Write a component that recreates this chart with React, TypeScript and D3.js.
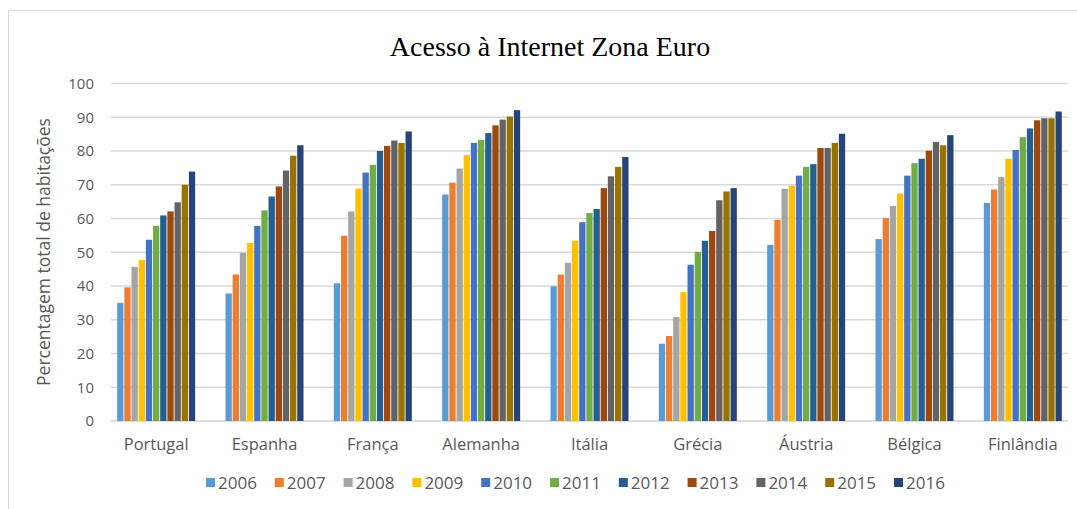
import * as d3 from "d3";

const width = 1077;
const height = 509;

const countries = ["Portugal", "Espanha", "França", "Alemanha", "Itália", "Grécia", "Áustria", "Bélgica", "Finlândia"];
const years = ["2006", "2007", "2008", "2009", "2010", "2011", "2012", "2013", "2014", "2015", "2016"];
const colors = ["#5B9BD5", "#ED7D31", "#A5A5A5", "#FFC000", "#4472C4", "#70AD47", "#255E91", "#9E480E", "#636363", "#997300", "#264478"];

// one array per country, values 2006..2016
const portugal = [35, 39.6, 45.7, 47.7, 53.7, 57.8, 60.9, 62.1, 64.8, 70, 73.9];
const espanha = [37.8, 43.4, 49.8, 52.8, 57.8, 62.4, 66.5, 69.5, 74.2, 78.6, 81.7];
const franca = [40.8, 54.9, 62.1, 68.9, 73.6, 75.9, 80, 81.5, 83.1, 82.4, 85.8];
const alemanha = [67.1, 70.6, 74.8, 78.8, 82.4, 83.3, 85.3, 87.6, 89.3, 90.2, 92.1];
const italia = [39.9, 43.4, 46.9, 53.4, 58.9, 61.6, 62.8, 69, 72.5, 75.3, 78.2];
const grecia = [22.9, 25.2, 30.8, 38.2, 46.3, 50.1, 53.4, 56.3, 65.4, 68, 69];
const austria = [52.2, 59.6, 68.8, 69.7, 72.7, 75.3, 76.1, 80.9, 80.9, 82.4, 85.1];
const belgica = [53.9, 60.1, 63.7, 67.4, 72.7, 76.4, 77.7, 80.1, 82.7, 81.7, 84.7];
const finlandia = [64.6, 68.6, 72.3, 77.7, 80.3, 84.1, 86.7, 89.1, 89.7, 89.7, 91.7];

const series = [portugal, espanha, franca, alemanha, italia, grecia, austria, belgica, finlandia];
const yTicks = [0, 10, 20, 30, 40, 50, 60, 70, 80, 90, 100];

const font = "'Open Sans', Lato, sans-serif";

const App = () => {
    const x = d3.scaleBand(countries, [102, 1077]).paddingInner(0.28).paddingOuter(0.14);
    const xi = d3.scaleBand(years, [0, x.bandwidth()]).paddingInner(0.12);
    const y = d3.scaleLinear([0, 100], [421, 83.5]);
    const gridX0 = 111;
    const gridX1 = 1068;

    return (
        <svg width={width} height={height} style={{ display: "block", position: "absolute", left: 0, top: 0 }}>
            <rect x={0} y={0} width={width} height={height} fill="white" />
            <rect x={8.5} y={10.5} width={width} height={height} fill="none" stroke="#d9d9d9" />
            <text x={550} y={56} textAnchor="middle" fontFamily="'Liberation Serif', 'Times New Roman', serif" fontSize={28} fill="#000">
                Acesso à Internet Zona Euro
            </text>

            {yTicks.map(t => (
                <g key={t}>
                    <line x1={gridX0} x2={gridX1} y1={y(t)} y2={y(t)} stroke={t === 0 ? "#d0d0d0" : "#d9d9d9"} strokeWidth={1.3} />
                    <text x={94} y={y(t)} dy="0.35em" textAnchor="end" fontFamily={font} fontSize={15} fill="#595959">{t}</text>
                </g>
            ))}

            <text transform={`translate(50,252) rotate(-90)`} textAnchor="middle" fontFamily={font} fontSize={17.5} fill="#595959">
                Percentagem total de habitações
            </text>

            {series.map((vals, ci) => (
                <g key={countries[ci]} transform={`translate(${x(countries[ci])},0)`}>
                    {vals.map((v, yi) => (
                        <rect key={yi}
                            x={xi(years[yi])}
                            y={y(v)}
                            width={xi.bandwidth()}
                            height={y(0) - y(v)}
                            fill={colors[yi]} />
                    ))}
                    <text x={x.bandwidth() / 2} y={450} textAnchor="middle" fontFamily={font} fontSize={16.5} fill="#595959">
                        {countries[ci]}
                    </text>
                </g>
            ))}

            {years.map((yr, i) => (
                <g key={yr} transform={`translate(${206 + i * 68.8},483)`}>
                    <rect x={0} y={-5} width={9} height={9} fill={colors[i]} />
                    <text x={12} y={0} dy="0.35em" fontFamily={font} fontSize={17} fill="#595959">{yr}</text>
                </g>
            ))}
        </svg>
    );
};

export default App;
